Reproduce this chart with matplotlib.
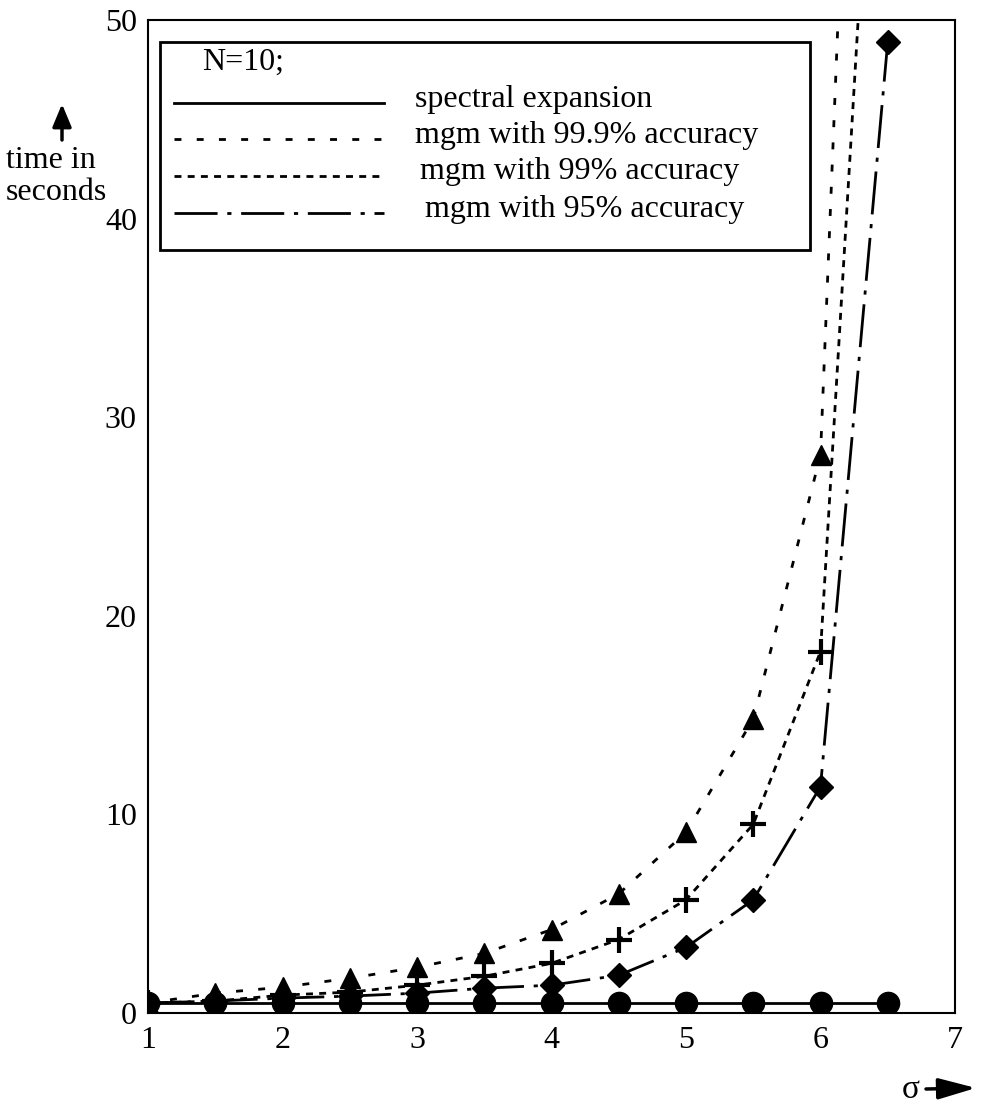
"""Computation time vs sigma: spectral expansion vs mgm at several accuracies."""
import matplotlib
matplotlib.use('Agg')
import matplotlib.pyplot as plt
from matplotlib.lines import Line2D
from matplotlib.patches import Rectangle

plt.rcParams.update({
    'font.family': 'Liberation Serif',
    'font.size': 23,
    'lines.scale_dashes': False,
})

# Data
sigma = [1, 1.5, 2, 2.5, 3, 3.5, 4, 4.5, 5, 5.5, 6, 6.5]
spectral = [0.5, 0.5, 0.5, 0.5, 0.5, 0.5, 0.5, 0.5, 0.5, 0.5, 0.5, 0.5]
mgm_999 = [0.5, 1.0, 1.3, 1.75, 2.3, 3.0, 4.2, 6.0, 9.1, 14.8, 28.1, 112]
mgm_99 = [0.5, 0.6, 0.9, 1.05, 1.4, 1.85, 2.5, 3.7, 5.7, 9.5, 18.2, 75]
mgm_95 = [0.5, 0.6, 0.75, 0.85, 1.0, 1.25, 1.4, 1.9, 3.3, 5.7, 11.4, 48.9]

labels = ['spectral expansion', 'mgm with 99.9% accuracy',
          'mgm with 99% accuracy', 'mgm with 95% accuracy']
legend_title = 'N=10;'

LS_SPEC = '-'
LS_999 = (0, (5, 11))
LS_99 = (0, (5, 4.5))
LS_95 = (0, (31, 7, 3, 7))
LW = 2.0
W, H = 986, 1108


def fx(px):
    return px / W


def fy(py):
    return 1 - py / H


fig = plt.figure(figsize=(W / 100, H / 100), dpi=100)
ax = fig.add_axes([fx(148), fy(1013), fx(955) - fx(148), fy(20) - fy(1013)])

ax.plot(sigma, mgm_999, color='black', lw=LW, linestyle=LS_999,
        marker='^', ms=15, zorder=3)
ax.plot(sigma, mgm_99, color='black', lw=LW, linestyle=LS_99,
        marker='+', ms=19, mew=3, zorder=3)
ax.plot(sigma, mgm_95, color='black', lw=LW, linestyle=LS_95,
        marker='D', ms=12, zorder=4)
ax.plot(sigma, spectral, color='black', lw=LW, linestyle=LS_SPEC,
        marker='o', ms=16, zorder=5)

ax.set_xlim(1, 7)
ax.set_ylim(0, 50)
ax.set_xticks([1, 2, 3, 4, 5, 6, 7])
ax.set_yticks([0, 10, 20, 30, 40, 50])
ax.tick_params(length=0, labelsize=23)
ax.tick_params(axis='x', pad=9)
ax.tick_params(axis='y', pad=8)
for s in ax.spines.values():
    s.set_linewidth(1.5)

# legend box drawn by hand to get the row layout of the original
fig.add_artist(Rectangle((fx(160), fy(250)), fx(810) - fx(160), fy(42) - fy(250),
                         transform=fig.transFigure, facecolor='white',
                         edgecolor='black', lw=2, zorder=6))
fig.text(fx(202), fy(62), legend_title, fontsize=23, ha='left', va='center',
         zorder=7)
row_y = [103, 139, 176, 213]
styles = [LS_SPEC, LS_999, LS_99, LS_95]
text_x = [415, 415, 420, 425]
for y, ls, lab, tx in zip(row_y, styles, labels, text_x):
    fig.add_artist(Line2D([fx(174), fx(384)], [fy(y), fy(y)], color='black',
                          lw=LW, linestyle=ls, transform=fig.transFigure,
                          zorder=7))
    fig.text(fx(tx), fy(y - 4), lab, fontsize=23, ha='left', va='center',
             zorder=7)

# axis captions with arrows
fig.text(fx(6), fy(160), 'time in', fontsize=23, ha='left', va='center')
fig.text(fx(6), fy(192), 'seconds', fontsize=23, ha='left', va='center')
fig.text(fx(911), fy(1090), 'σ', fontsize=24, ha='center', va='center')
ax.annotate('', xy=(fx(62), fy(104)), xycoords='figure fraction',
            xytext=(fx(62), fy(140)), textcoords='figure fraction',
            arrowprops=dict(arrowstyle='-|>,head_width=0.25,head_length=0.6',
                            color='black', lw=2.5, shrinkA=0, shrinkB=0))
ax.annotate('', xy=(fx(976), fy(1088)), xycoords='figure fraction',
            xytext=(fx(926), fy(1089)), textcoords='figure fraction',
            arrowprops=dict(arrowstyle='-|>,head_width=0.28,head_length=1.0',
                            color='black', lw=2.5, shrinkA=0, shrinkB=0))

fig.savefig('out.png', dpi=100)
